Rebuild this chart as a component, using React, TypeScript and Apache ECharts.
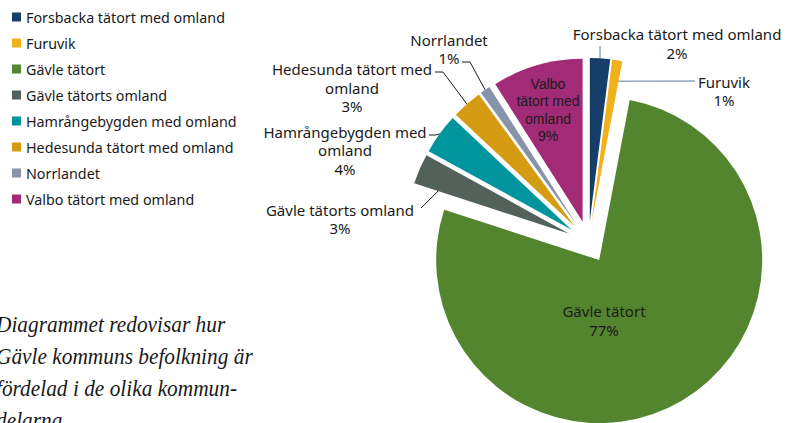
import React, { useEffect, useRef } from "react";
import * as echarts from "echarts";

const categories = [
  "Forsbacka tätort med omland",
  "Furuvik",
  "Gävle tätort",
  "Gävle tätorts omland",
  "Hamrångebygden med omland",
  "Hedesunda tätort med omland",
  "Norrlandet",
  "Valbo tätort med omland",
];
const labelNames = [
  "Forsbacka tätort med omland",
  "Furuvik",
  "Gävle tätort",
  "Gävle tätorts omland",
  "Hamrångebygden med\nomland",
  "Hedesunda tätort med\nomland",
  "Norrlandet",
  "Valbo\ntätort med\nomland",
];
const shares = [2, 1, 77, 3, 4, 3, 1, 9];
const colors = ["#173d6a", "#f0b11b", "#52852e", "#52625a", "#00959e", "#d49b13", "#8793a8", "#a22b78"];
const noteLines = [
  "Diagrammet redovisar hur",
  "Gävle kommuns befolkning är",
  "fördelad i de olika kommun-",
  "delarna.",
];

// ---- layout only ----
const PIE_CX = 588.5;
const PIE_CY = 242;
const PIE_R = 163;
const EXPLODE = 21;
const labelPos: Array<[number, number]> = [
  [677, 43.5],
  [724, 91],
  [604, 320.5],
  [340, 219],
  [345, 150],
  [352, 87.5],
  [449, 49],
  [548, 110],
];
const inside = [false, false, true, false, false, false, false, true];
// label-side points of the leader lines (from slice toward label)
const leaderLabelSide: Array<Array<[number, number]> | null> = [
  [[600, 46]],
  [[695, 81]],
  null,
  [[421, 208]],
  [[436, 135], [429, 135]],
  [[443, 72], [435, 72]],
  [[470, 62], [462, 62]],
  null,
];
const leaderRadiusFrac = [1, 0.87, 1, 0.81, 1, 1, 1, 1];

export default function App() {
  const ref = useRef<HTMLDivElement>(null);
  useEffect(() => {
    if (!ref.current) return;
    const chart = echarts.init(ref.current, undefined, { renderer: "svg" });
    const font = "Noto Sans";
    const total = shares.reduce((a, b) => a + b, 0);
    let cum = 0;
    const series = shares.map((s, i) => {
      const mid = ((cum + s / 2) / total) * Math.PI * 2;
      cum += s;
      const cx = PIE_CX + EXPLODE * Math.sin(mid);
      const cy = PIE_CY - EXPLODE * Math.cos(mid);
      const rr = PIE_R * leaderRadiusFrac[i];
      const anchor: [number, number] = [cx + rr * Math.sin(mid), cy - rr * Math.cos(mid)];
      return {
        type: "pie",
        name: categories[i],
        center: [cx, cy],
        radius: [0, PIE_R],
        startAngle: 90,
        clockwise: true,
        emphasis: { disabled: true },
        avoidLabelOverlap: false,
        silent: true,
        itemStyle: { borderWidth: 0 },
        data: categories.map((name, j) => ({
          name,
          value: shares[j],
          itemStyle: { color: j === i ? colors[j] : "rgba(0,0,0,0)" },
          label:
            j === i
              ? {
                  show: true,
                  position: inside[j] ? "inside" : "outside",
                  formatter: (p: any) => `${labelNames[j]}\n${Math.round(p.percent)}%`,
                  fontFamily: j === 7 ? "Liberation Sans" : font,
                  fontSize: j === 7 ? 14 : 15,
                  lineHeight: j === 7 ? 17.5 : 18.5,
                  color: "#1a1a1a",
                  align: "center",
                }
              : { show: false },
          labelLine:
            j === i && !inside[j]
              ? {
                  show: true,
                  length: 8,
                  length2: 8,
                  lineStyle: { color: j < 2 ? "#5b7b9c" : "#1a1a1a", width: 1 },
                }
              : { show: false },
        })),
        labelLayout: (params: any) => {
          const p = labelPos[params.dataIndex];
          const side = leaderLabelSide[params.dataIndex];
          const res: any = { x: p[0], y: p[1], align: "center", verticalAlign: "middle" };
          if (side) {
            const pts = [anchor, ...side];
            if (pts.length === 2) pts.push(side[side.length - 1]);
            res.labelLinePoints = pts;
          }
          return res;
        },
      };
    });
    chart.setOption({
      animation: false,
      color: colors,
      legend: {
        orient: "vertical",
        left: 7,
        top: 4,
        icon: "rect",
        itemWidth: 9,
        itemHeight: 9,
        itemGap: 10,
        selectedMode: false,
        textStyle: { fontSize: 14.3, lineHeight: 16, color: "#1a1a1a", fontFamily: font },
        data: categories.map((name, i) => ({ name, itemStyle: { color: colors[i] } })),
      },
      graphic: [
        {
          type: "text",
          x: -4,
          y: 308,
          scaleX: 0.89,
          silent: true,
          style: {
            text: noteLines.join("\n"),
            font: 'italic 24px "Liberation Serif"',
            lineHeight: 32,
            fill: "#1a1a1a",
          },
        },
      ],
      series,
    });
    return () => chart.dispose();
  }, []);
  return (
    <div
      ref={ref}
      style={{ position: "fixed", left: 0, top: 0, width: 786, height: 423, background: "#fff" }}
    />
  );
}
